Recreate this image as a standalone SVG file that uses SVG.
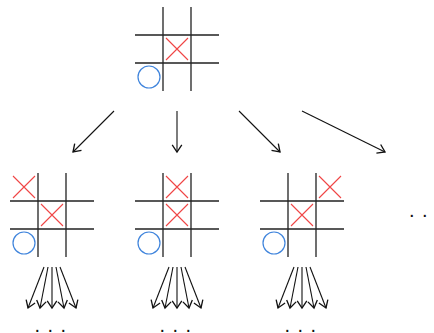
<svg xmlns="http://www.w3.org/2000/svg" width="434" height="333" viewBox="0 0 434 333">
<style>
.g{stroke:#222;stroke-width:1.3;fill:none}
.x{stroke:#f04545;stroke-width:1.1;fill:none}
.o{stroke:#3f84dc;stroke-width:1.2;fill:none}
.a{stroke:#111;stroke-width:1.1;fill:none;marker-end:url(#ah)}
.d{font-family:"Liberation Sans",sans-serif;font-size:20px;fill:#111;letter-spacing:7.4px}
</style>
<defs>
<marker id="ah" markerWidth="12" markerHeight="12" viewBox="-7 -5 9 10" refX="0" refY="0" orient="auto" markerUnits="userSpaceOnUse">
<path d="M-6,-4 L0,0 L-6,4" stroke="#111" stroke-width="1.1" fill="none"/>
</marker>
<g id="grid">
<path class="g" d="M28,0V84M56,0V84M0,28H84M0,56H84"/>
</g>
<path id="xm" class="x" d="M3,3L25,25M25,3L3,25"/>
</defs>
<g id="root" transform="translate(135,7)">
<use href="#grid"/>
<use href="#xm" x="28" y="28"/>
<circle class="o" cx="14" cy="70" r="11"/>
</g>
<g id="child1" transform="translate(10,173)">
<use href="#grid"/>
<use href="#xm" x="0" y="0"/>
<use href="#xm" x="28" y="28"/>
<circle class="o" cx="14" cy="70" r="11"/>
</g>
<g id="child2" transform="translate(135,173)">
<use href="#grid"/>
<use href="#xm" x="28" y="0"/>
<use href="#xm" x="28" y="28"/>
<circle class="o" cx="14" cy="70" r="11"/>
</g>
<g id="child3" transform="translate(260,173)">
<use href="#grid"/>
<use href="#xm" x="56" y="0"/>
<use href="#xm" x="28" y="28"/>
<circle class="o" cx="14" cy="70" r="11"/>
</g>
<g id="dots">
<text class="d" x="409" y="216.5">...</text>
<text class="d" x="34.5" y="332">...</text>
<text class="d" x="159.5" y="332">...</text>
<text class="d" x="284.5" y="332">...</text>
</g>
<g id="connectors">
<path class="a" d="M114,111L73,152"/>
<path class="a" d="M177,111V152"/>
<path class="a" d="M239,111L280,152"/>
<path class="a" d="M302,111L385,152"/>
<g id="fan1">
<path class="a" d="M44,267L28,308"/>
<path class="a" d="M48,267L40,308"/>
<path class="a" d="M52,267V308"/>
<path class="a" d="M56,267L64,308"/>
<path class="a" d="M60,267L76,308"/>
</g>
<g id="fan2">
<path class="a" d="M169,267L153,308"/>
<path class="a" d="M173,267L165,308"/>
<path class="a" d="M177,267V308"/>
<path class="a" d="M181,267L189,308"/>
<path class="a" d="M185,267L201,308"/>
</g>
<g id="fan3">
<path class="a" d="M294,267L278,308"/>
<path class="a" d="M298,267L290,308"/>
<path class="a" d="M302,267V308"/>
<path class="a" d="M306,267L314,308"/>
<path class="a" d="M310,267L326,308"/>
</g>
</g>
</svg>
